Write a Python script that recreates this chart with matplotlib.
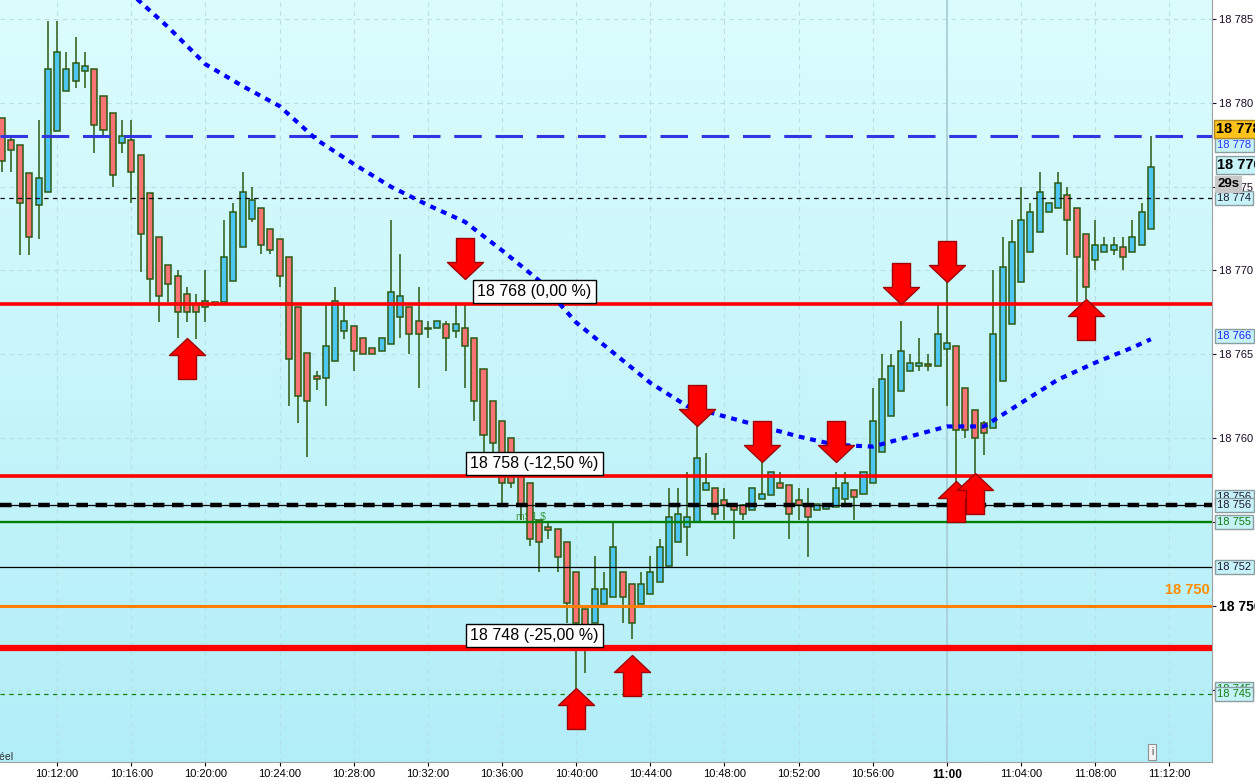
import numpy as np
import pandas as pd
import matplotlib
matplotlib.use("Agg")
import matplotlib.pyplot as plt
import matplotlib.dates as mdates
from matplotlib.path import Path
from matplotlib.colors import LinearSegmentedColormap
from matplotlib.transforms import blended_transform_factory, offset_copy

plt.rcParams["font.family"] = ["Liberation Sans", "DejaVu Sans"]

DAY = "2024-05-30 "

# --- 30s candles from 10:09:00 to 11:11:00 ---
opens = [18779.1, 18777.8, 18777.5, 18775.8, 18773.9, 18774.7, 18778.3, 18780.7, 18781.3, 18781.9,
         18782.0, 18780.4, 18779.4, 18777.6, 18777.8, 18776.9, 18774.6, 18772.0, 18770.3, 18769.7,
         18768.6, 18768.0, 18767.8, 18768.0, 18768.1, 18769.4, 18771.4, 18773.1, 18773.7, 18772.5,
         18771.9, 18770.8, 18767.8, 18765.1, 18763.7, 18763.6, 18764.6, 18766.4, 18766.7, 18766.0,
         18765.4, 18765.2, 18765.6, 18767.2, 18767.8, 18767.0, 18766.6, 18766.6, 18766.8, 18766.4,
         18766.6, 18766.0, 18764.1, 18762.2, 18761.0, 18760.0, 18757.8, 18757.3, 18755.1, 18754.7,
         18754.6, 18753.8, 18752.0, 18749.8, 18749.0, 18750.1, 18750.5, 18752.0, 18751.3, 18750.1,
         18750.7, 18751.4, 18752.4, 18753.8, 18754.7, 18755.0, 18756.9, 18757.0, 18756.3, 18756.0,
         18756.0, 18755.7, 18756.4, 18756.6, 18757.3, 18757.2, 18756.3, 18756.1, 18755.7, 18755.8,
         18755.9, 18756.4, 18756.9, 18756.7, 18757.3, 18759.2, 18761.3, 18762.8, 18764.0, 18764.3,
         18764.4, 18764.3, 18765.3, 18765.5, 18763.0, 18761.7, 18760.9, 18760.6, 18763.4, 18766.8,
         18769.3, 18771.1, 18772.3, 18773.5, 18773.7, 18774.5, 18773.7, 18772.2, 18770.6, 18771.1,
         18771.2, 18771.4, 18771.1, 18771.5, 18772.5]
highs = [18779.1, 18778.0, 18777.5, 18775.8, 18779.0, 18784.9, 18784.9, 18783.0, 18783.9, 18783.0,
         18782.0, 18780.4, 18779.4, 18779.0, 18779.0, 18776.9, 18774.6, 18772.0, 18770.3, 18770.0,
         18769.0, 18768.6, 18770.0, 18768.1, 18773.0, 18774.0, 18775.9, 18775.0, 18773.7, 18772.5,
         18771.9, 18770.8, 18767.8, 18765.1, 18764.0, 18768.0, 18769.0, 18768.0, 18766.7, 18766.0,
         18765.4, 18766.0, 18773.0, 18771.0, 18767.8, 18769.0, 18767.0, 18767.0, 18767.0, 18768.0,
         18768.0, 18766.0, 18764.1, 18762.2, 18761.0, 18760.0, 18757.8, 18757.3, 18755.1, 18755.0,
         18754.6, 18753.8, 18752.0, 18749.8, 18753.0, 18752.0, 18755.0, 18752.0, 18751.3, 18752.0,
         18753.0, 18754.0, 18757.0, 18757.0, 18758.0, 18760.7, 18759.1, 18757.0, 18757.0, 18756.0,
         18756.1, 18757.0, 18758.6, 18758.0, 18758.0, 18757.2, 18757.0, 18757.0, 18756.1, 18756.0,
         18758.0, 18758.0, 18756.9, 18758.0, 18763.0, 18765.0, 18765.0, 18767.0, 18765.0, 18766.0,
         18765.0, 18768.0, 18769.3, 18765.5, 18763.0, 18761.7, 18761.0, 18770.0, 18772.0, 18773.0,
         18775.0, 18774.0, 18775.9, 18774.0, 18775.9, 18775.0, 18773.7, 18772.2, 18773.0, 18772.0,
         18772.0, 18772.0, 18773.0, 18774.0, 18778.0]
lows = [18775.9, 18775.9, 18770.9, 18770.9, 18771.9, 18774.7, 18778.3, 18780.7, 18780.9, 18780.9,
        18777.0, 18778.0, 18775.0, 18777.0, 18774.0, 18769.9, 18768.1, 18766.9, 18768.1, 18766.0,
        18766.9, 18765.9, 18766.9, 18767.9, 18768.1, 18769.4, 18771.4, 18772.9, 18771.0, 18771.0,
        18769.0, 18761.9, 18760.9, 18758.9, 18762.9, 18761.9, 18764.6, 18765.9, 18764.0, 18765.0,
        18765.0, 18765.2, 18765.6, 18766.0, 18765.0, 18763.0, 18766.0, 18766.6, 18764.0, 18766.0,
        18763.0, 18761.0, 18759.1, 18759.1, 18756.0, 18757.0, 18755.1, 18753.6, 18752.0, 18754.0,
        18752.0, 18749.0, 18745.0, 18746.0, 18749.0, 18750.1, 18750.5, 18749.0, 18748.0, 18750.1,
        18750.7, 18751.4, 18752.4, 18753.8, 18753.0, 18755.0, 18756.9, 18755.1, 18755.1, 18754.0,
        18755.1, 18755.7, 18756.4, 18756.6, 18757.0, 18754.0, 18755.1, 18752.9, 18755.7, 18755.8,
        18755.9, 18756.1, 18755.1, 18756.7, 18757.3, 18759.2, 18761.3, 18762.8, 18764.0, 18764.0,
        18764.0, 18764.3, 18761.9, 18757.3, 18760.0, 18757.9, 18759.0, 18760.6, 18763.4, 18766.8,
        18769.3, 18771.1, 18772.3, 18773.5, 18773.7, 18770.9, 18768.1, 18768.3, 18770.0, 18771.1,
        18770.9, 18770.0, 18771.1, 18771.5, 18772.5]
closes = [18776.5, 18777.2, 18774.0, 18772.0, 18775.5, 18782.0, 18783.0, 18782.0, 18782.4, 18782.2,
          18778.7, 18778.4, 18775.7, 18778.0, 18775.9, 18772.2, 18769.5, 18768.5, 18769.2, 18767.5,
          18767.5, 18767.5, 18768.2, 18768.1, 18770.8, 18773.5, 18774.7, 18774.2, 18771.5, 18771.2,
          18769.7, 18764.7, 18762.5, 18762.2, 18763.5, 18765.5, 18768.2, 18767.0, 18765.2, 18765.0,
          18765.0, 18766.0, 18768.7, 18768.5, 18766.2, 18766.2, 18766.5, 18767.0, 18766.0, 18766.8,
          18765.5, 18762.2, 18760.2, 18759.7, 18757.3, 18757.3, 18756.0, 18754.0, 18753.8, 18754.5,
          18752.9, 18750.2, 18749.0, 18747.5, 18751.0, 18751.0, 18753.5, 18750.5, 18749.0, 18751.3,
          18752.0, 18753.5, 18755.3, 18755.5, 18755.3, 18758.8, 18757.3, 18755.5, 18756.0, 18755.7,
          18755.5, 18757.0, 18756.7, 18758.0, 18757.0, 18755.5, 18756.0, 18755.3, 18756.1, 18756.0,
          18757.0, 18757.3, 18756.5, 18758.0, 18761.0, 18763.5, 18764.3, 18765.2, 18764.5, 18764.5,
          18764.3, 18766.2, 18765.7, 18760.5, 18760.5, 18760.0, 18760.3, 18766.2, 18770.2, 18771.7,
          18773.0, 18773.5, 18774.7, 18774.0, 18775.2, 18773.0, 18770.8, 18769.0, 18771.5, 18771.5,
          18771.5, 18770.8, 18772.0, 18773.5, 18776.2]
times = pd.date_range(DAY + "10:09:00", periods=len(opens), freq="30s")

# moving average (blue dotted)
ma_times = ["10:16:00", "10:18:00", "10:20:00", "10:22:00", "10:24:00", "10:26:00", "10:28:00",
            "10:30:00", "10:32:00", "10:34:00", "10:36:00", "10:38:00", "10:40:00", "10:42:00",
            "10:44:00", "10:46:00", "10:48:00", "10:50:00", "10:52:00", "10:54:00", "10:56:00",
            "10:58:00", "11:00:00", "11:02:00", "11:04:00", "11:06:00", "11:08:00", "11:10:00",
            "11:11:00"]
ma_values = [18786.5, 18784.5, 18782.3, 18781.0, 18779.8, 18777.8, 18776.35, 18775.0, 18773.9,
             18772.9, 18771.2, 18769.4, 18766.9, 18765.1, 18763.3, 18761.9, 18761.3, 18760.7,
             18760.1, 18759.6, 18759.5, 18760.1, 18760.7, 18760.7, 18762.1, 18763.5, 18764.5,
             18765.4, 18765.9]

# signal arrows
sell_times = ["10:34:00", "10:46:30", "10:50:00", "10:54:00", "10:57:30", "11:00:00"]
sell_prices = [18769.5, 18760.7, 18758.6, 18758.6, 18768.0, 18769.3]
buy_times = ["10:19:00", "10:40:00", "10:43:00", "11:00:30", "11:01:30", "11:07:30"]
buy_prices = [18766.0, 18745.1, 18747.1, 18757.45, 18757.9, 18768.3]

# fibonacci levels
fib_levels = [18768.0, 18757.75, 18747.5]
fib_labels = ["18 768 (0,00 %)", "18 758 (-12,50 %)", "18 748 (-25,00 %)"]
fib_label_times = ["10:34:40", "10:34:17", "10:34:17"]

# other horizontal levels
level_high = 18778.0
level_prev = 18774.3
level_pivot = 18756.0
level_s1 = 18755.0
level_mid = 18752.3
level_round = 18750.0
level_low = 18744.75

# right-axis price boxes
box_prices = [18777.5, 18774.3, 18766.1, 18756.5, 18756.0, 18755.0, 18752.3, 18745.05, 18744.75]
box_texts = ["18 778", "18 774", "18 766", "18 756", "18 756", "18 755", "18 752", "18 745", "18 745"]
box_colors = ["#3030ff", "#201838", "#2020ff", "#201838", "#201838", "#108010", "#201838",
              "#108010", "#108010"]

last_price = 18776.3
high_price = 18778.44
timer_price = 18775.15
timer_text = "29s"

y_ticks = [18745, 18750, 18755, 18760, 18765, 18770, 18775, 18780, 18785]
x_tick_times = pd.date_range(DAY + "10:12:00", DAY + "11:12:00", freq="4min")


def td(s):
    return mdates.date2num(pd.Timestamp(DAY + s).to_pydatetime())


xs = mdates.date2num(times.to_pydatetime())
o = np.array(opens)
h = np.array(highs)
l = np.array(lows)
c = np.array(closes)

fig = plt.figure(figsize=(12.55, 7.81), dpi=100)
ax = fig.add_axes([0, 19 / 781, 1212 / 1255, 762 / 781])

# background gradient
bg = LinearSegmentedColormap.from_list("bg", ["#dcfdfe", "#b2eef8"])
ax.imshow(np.linspace(0, 1, 256).reshape(-1, 1), cmap=bg, aspect="auto",
          extent=[0, 1, 0, 1], transform=ax.transAxes, zorder=0)

xmin = td("10:08:55")
xmax = td("11:14:18")
ax.set_xlim(xmin, xmax)
ax.set_ylim(18740.69, 18786.13)

# grid
for t in x_tick_times:
    ax.axvline(mdates.date2num(t.to_pydatetime()), color="#b8dfe6", lw=0.8,
               ls=(0, (4, 4)), zorder=1)
for yv in y_ticks:
    ax.axhline(yv, color="#b8dfe6", lw=0.8, ls=(0, (4, 4)), zorder=1)
ax.axvline(td("11:00:00"), color="#a8cfd8", lw=1.3, zorder=1)

ax.text(td("10:36:45"), level_s1, "mS1 $", color="#3a9a3a", fontsize=7.5,
        va="bottom", zorder=2)

# candles
w = 0.65 * 30 / 86400
up = c >= o
body_lo = np.minimum(o, c)
body_h = np.maximum(np.abs(c - o), 0.08)
ax.vlines(xs, l, h, color="#2c5a12", lw=1.1, zorder=3)
ax.bar(xs[up], body_h[up], bottom=body_lo[up], width=w, color="#4ec6f2",
       edgecolor="#2c5a12", linewidth=1.1, zorder=4)
ax.bar(xs[~up], body_h[~up], bottom=body_lo[~up], width=w, color="#f87474",
       edgecolor="#2c5a12", linewidth=1.1, zorder=4)

# horizontal levels
ax.axhline(level_high, color="#3434e0", lw=2.2, ls=(0, (9, 4.5)), zorder=5)
ax.axhline(level_prev, color="black", lw=0.9, ls=(0, (3.5, 3.5)), zorder=5)
ax.axhline(level_pivot, color="black", lw=0.9, zorder=5)
ax.axhline(level_pivot, color="black", lw=3.2, ls=(0, (2.6, 1.7)), zorder=5)
ax.axhline(level_s1, color="#008000", lw=1.7, zorder=5)
ax.axhline(level_mid, color="black", lw=0.9, zorder=5)
ax.axhline(level_round, color="#ff8000", lw=2.2, zorder=5)
ax.axhline(level_low, color="#108010", lw=0.9, ls=(0, (3.5, 3.5)), zorder=5)
for lv, lwid in zip(fib_levels, [2.6, 2.6, 4.5]):
    ax.axhline(lv, color="#ff0000", lw=lwid, zorder=5)

# moving average
ma_x = [td(s) for s in ma_times]
ax.plot(ma_x, ma_values, color="#0000ff", lw=3, ls=(0, (1.4, 1.4)),
        dash_capstyle="butt", zorder=6)

# fibonacci labels
tr_up = offset_copy(ax.transData, fig=fig, y=5, units="dots")
for lv, lab, tt in zip(fib_levels, fib_labels, fib_label_times):
    ax.text(td(tt), lv, lab, transform=tr_up, fontsize=11.5, va="bottom", ha="left",
            zorder=7, bbox=dict(boxstyle="square,pad=0.25", fc="white", ec="black", lw=1))

ax.text(0.998, level_round, "18 750", transform=offset_copy(
    blended_transform_factory(ax.transAxes, ax.transData), fig=fig, y=9, units="dots"),
    color="#ff8c00", fontsize=10.5, fontweight="bold", ha="right", va="bottom", zorder=7)

# arrows
down_verts = [(0, 0), (-18, 17), (-9, 17), (-9, 41), (9, 41), (9, 17), (18, 17), (0, 0)]
codes = [Path.MOVETO] + [Path.LINETO] * 6 + [Path.CLOSEPOLY]
down_arrow = Path(down_verts, codes)
up_arrow = Path([(x, -y) for x, y in down_verts], codes)
ax.plot([td(s) for s in sell_times], sell_prices, ls="none", marker=down_arrow, ms=59,
        mfc="#ff0000", mec="#a00000", mew=1, zorder=8, clip_on=False)
ax.plot([td(s) for s in buy_times], buy_prices, ls="none", marker=up_arrow, ms=59,
        mfc="#ff0000", mec="#a00000", mew=1, zorder=8, clip_on=False)

# axes styling
for side in ["left", "top"]:
    ax.spines[side].set_visible(False)
ax.spines["right"].set_color("#a0a0a0")
ax.spines["bottom"].set_color("#a0a0a0")
ax.yaxis.tick_right()
ax.set_yticks(y_ticks)
ax.set_yticklabels([f"{v:,}".replace(",", " ") for v in y_ticks])
ax.tick_params(axis="y", length=3, pad=2, labelsize=8, colors="#1a0a2a")
for lab, v in zip(ax.get_yticklabels(), y_ticks):
    if v == 18750:
        lab.set_fontweight("bold")
        lab.set_fontsize(10)
        lab.set_color("black")
ax.set_xticks([mdates.date2num(t.to_pydatetime()) for t in x_tick_times])
xl = [t.strftime("%H:%M:%S") for t in x_tick_times]
xl = ["11:00" if s == "11:00:00" else s for s in xl]
ax.set_xticklabels(xl)
ax.tick_params(axis="x", length=3, pad=2, labelsize=8, colors="black")
for lab in ax.get_xticklabels():
    if lab.get_text() == "11:00":
        lab.set_fontweight("bold")
        lab.set_fontsize(8.5)

# right-axis boxes
rt = blended_transform_factory(ax.transAxes, ax.transData)
for p, t, col in zip(box_prices, box_texts, box_colors):
    ax.text(1.0045, p, t, transform=rt, color=col, fontsize=8, ha="left", va="center",
            clip_on=False, zorder=10,
            bbox=dict(boxstyle="square,pad=0.18", fc="#c6f3f7", ec="#8a9ea2", lw=1))
ax.text(1.0035, high_price, "18 778", transform=rt, color="black", fontsize=10.5,
        fontweight="bold", ha="left", va="center", clip_on=False, zorder=11,
        bbox=dict(boxstyle="square,pad=0.12", fc="#ffc21a", ec="#b08a20", lw=1))
ax.text(1.0045, last_price, "18 776", transform=rt, color="black", fontsize=10.5,
        fontweight="bold", ha="left", va="center", clip_on=False, zorder=11,
        bbox=dict(boxstyle="square,pad=0.12", fc="#c6f3f7", ec="#8a9ea2", lw=1))
ax.text(1.0045, timer_price, timer_text, transform=rt, color="black", fontsize=9.5,
        fontweight="bold", ha="left", va="center", clip_on=False, zorder=11,
        bbox=dict(boxstyle="square,pad=0.15", fc="#c8c8c8", ec="#c8c8c8", lw=1))

fig.text(13 / 1255, (781 - 757) / 781, "Temps réel", fontsize=7.5, color="#303030",
         ha="right", va="center")
fig.text(1152 / 1255, (781 - 752) / 781, "i", fontsize=7, color="#404040", ha="center",
         va="center", bbox=dict(boxstyle="square,pad=0.3", fc="#f4f4f4", ec="#909090", lw=0.8))

fig.savefig("out.png", dpi=100)
